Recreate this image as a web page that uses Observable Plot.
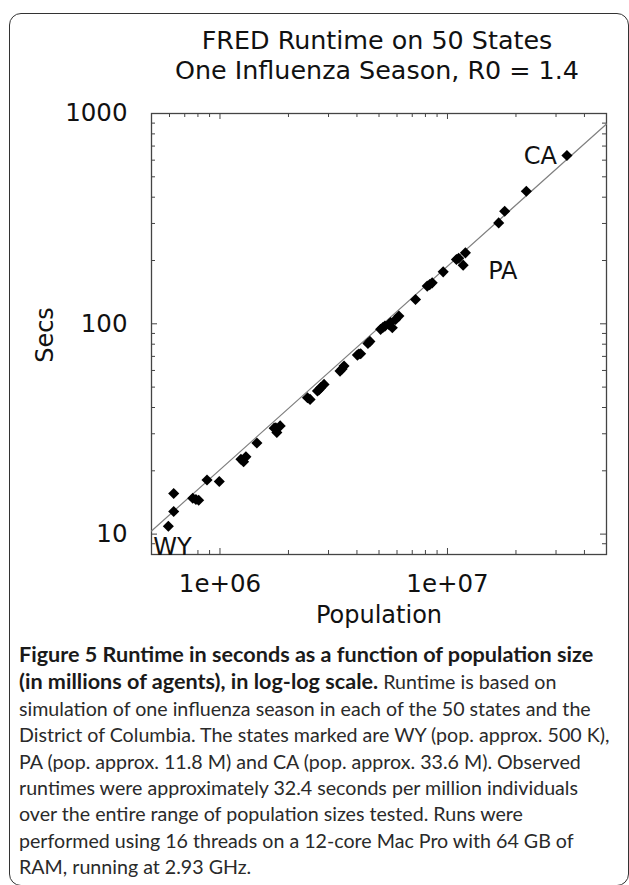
<!DOCTYPE html>
<html>
<head>
<meta charset="utf-8">
<script src="https://cdn.jsdelivr.net/npm/d3@7"></script>
<script src="https://cdn.jsdelivr.net/npm/@observablehq/plot@0.6"></script>
<style>
  html, body { margin: 0; padding: 0; background: #fff; }
  #page { position: relative; width: 629px; height: 885px; overflow: hidden; background: #fff; }
  #box { position: absolute; left: 9px; top: 13px; width: 620px; height: 873px; border: 1.5px solid #333; border-radius: 12px; box-sizing: border-box; }
  .title { position: absolute; left: 77px; width: 600px; text-align: center; font-family: "DejaVu Sans", Verdana, sans-serif; font-size: 25.4px; line-height: 30px; color: #111; white-space: nowrap; }
  #chart { position: absolute; left: 0; top: 100px; }
  #caption { position: absolute; left: 19px; top: 641px; font-family: Lato, "Open Sans", sans-serif; color: #2a2a2a; }
  #caption div { white-space: nowrap; line-height: 26.4px; }
  #caption b { font-weight: 700; color: #1a1a1a; }
</style>
</head>
<body>
<div id="page">
  <div id="box"></div>
  <div class="title" style="top:25px">FRED Runtime on 50 States</div>
  <div class="title" style="top:55px">One Influenza Season, R0 = 1.4</div>
  <div id="chart"></div>
  <div id="caption"></div>
</div>
<script>
// ---- data ----
const population = [
  593000, 626000, 626000, 759000, 806000, 877000, 993000, 1236000, 1270000, 1453000,
  1731000, 1778000, 1839000, 2425000, 2489000, 2682000, 2773000, 2867000, 3370000, 3510000,
  4018000, 4153000, 4470000, 5083000, 5309000, 5528000, 5721000, 5914000, 6114000, 7237000,
  8147000, 8567000, 9575000, 10950000, 11720000, 11990000, 16790000, 17840000, 22210000, 33500000,
  1300000, 1760000, 4080000, 5200000, 5620000, 2720000, 8350000, 11200000, 784000, 4560000, 3440000
];
const secs = [
  10.9, 12.8, 15.6, 14.8, 14.5, 18.1, 17.8, 22.7, 22.1, 27.1,
  31.9, 30.4, 32.7, 44.5, 43.7, 47.9, 49.7, 51.5, 59.6, 63.0,
  71.0, 72.0, 80.7, 94.1, 97.5, 99.3, 95.7, 104.9, 108.8, 130.6,
  151.1, 156.6, 176.6, 202.2, 190.1, 217.5, 301.9, 343.1, 427, 631,
  23.3, 32.0, 71.8, 96.0, 101.5, 48.5, 153.5, 205.0, 14.6, 82.5, 61.0
];
// marked states (index into the arrays above)
const markedStates = ["WY", "PA", "CA"];
const markedIndex = [0, 34, 39];

// fitted line (end points at the frame edges)
const fitPopulation = [500000, 50000000];
const fitSecs = [10.35, 891];

// axis ticks
const xMajorTicks = [1e6, 1e7];
const xMinorTicks = [6e5, 7e5, 8e5, 9e5, 2e6, 3e6, 4e6, 5e6, 6e6, 7e6, 8e6, 9e6, 2e7, 3e7, 4e7];
const yMajorTicks = [10, 100, 1000];
const yMinorTicks = [9, 20, 30, 40, 50, 60, 70, 80, 90, 200, 300, 400, 500, 600, 700, 800, 900];
const xLabel = "Population";
const yLabel = "Secs";

const captionLines = [
  ["Figure 5 Runtime in seconds as a function of population size", ""],
  ["(in millions of agents), in log-log scale.", " Runtime is based on"],
  ["", "simulation of one influenza season in each of the 50 states and the"],
  ["", "District of Columbia. The states marked are WY (pop. approx. 500 K),"],
  ["", "PA (pop. approx. 11.8 M) and CA (pop. approx. 33.6 M). Observed"],
  ["", "runtimes were approximately 32.4 seconds per million individuals"],
  ["", "over the entire range of population sizes tested. Runs were"],
  ["", "performed using 16 threads on a 12-core Mac Pro with 64 GB of"],
  ["", "RAM, running at 2.93 GHz."]
];

// ---- build tables ----
const points = population.map((p, i) => ({pop: p, secs: secs[i]}));
const labeled = markedIndex.map((k, i) => ({pop: population[k], secs: secs[k], name: markedStates[i]}));
const fit = fitPopulation.map((p, i) => ({pop: p, secs: fitSecs[i]}));
const fmtSci = d => "1e+" + String(Math.round(Math.log10(d))).padStart(2, "0");
const tickColor = "#444";

const W = 629, H = 540, mL = 151, mR = 23, mT = 13, mB = 86;
const frameW = W - mL - mR, frameH = H - mT - mB;
const minorLen = 4, majorLen = 6;

const chart = Plot.plot({
  width: W,
  height: H,
  marginLeft: mL,
  marginRight: mR,
  marginTop: mT,
  marginBottom: mB,
  x: {type: "log", domain: [5e5, 5e7]},
  y: {type: "log", domain: [8, 1000]},
  style: {fontFamily: "'DejaVu Sans', Verdana, sans-serif", color: "#111", background: "transparent", overflow: "visible"},
  marks: [
    // inward ticks on all four sides
    Plot.ruleX(xMinorTicks, {x: d => d, insetTop: frameH - minorLen, stroke: tickColor}),
    Plot.ruleX(xMinorTicks, {x: d => d, insetBottom: frameH - minorLen, stroke: tickColor}),
    Plot.ruleX(xMajorTicks, {x: d => d, insetTop: frameH - majorLen, stroke: tickColor}),
    Plot.ruleX(xMajorTicks, {x: d => d, insetBottom: frameH - majorLen, stroke: tickColor}),
    Plot.ruleY(yMinorTicks, {y: d => d, insetRight: frameW - minorLen, stroke: tickColor}),
    Plot.ruleY(yMinorTicks, {y: d => d, insetLeft: frameW - minorLen, stroke: tickColor}),
    Plot.ruleY(yMajorTicks, {y: d => d, insetRight: frameW - majorLen, stroke: tickColor}),
    Plot.ruleY(yMajorTicks, {y: d => d, insetLeft: frameW - majorLen, stroke: tickColor}),
    // tick labels
    Plot.axisX({anchor: "bottom", ticks: xMajorTicks, tickSize: 0, tickPadding: 20, tickFormat: fmtSci, label: null, fontSize: 24.5, fill: "#111"}),
    Plot.axisY({anchor: "left", ticks: yMajorTicks, tickSize: 0, tickPadding: 24, tickFormat: d => String(d), label: null, fontSize: 24.5, fill: "#111"}),
    // axis titles
    Plot.text([xLabel], {frameAnchor: "bottom", textAnchor: "middle", lineAnchor: "middle", dy: 61, fontSize: 24, fill: "#111"}),
    Plot.text([yLabel], {frameAnchor: "left", textAnchor: "middle", lineAnchor: "middle", dx: -106, dy: 1, rotate: -90, fontSize: 24, fill: "#111"}),
    // frame
    Plot.frame({stroke: "#444", strokeWidth: 1.3}),
    // fitted line
    Plot.line(fit, {x: "pop", y: "secs", stroke: "#808080", strokeWidth: 1.2}),
    // data points
    Plot.dot(points, {x: "pop", y: "secs", symbol: "diamond2", r: 5, fill: "#000", stroke: null}),
    // state labels
    Plot.text(labeled.filter(d => d.name === "WY"), {x: "pop", y: "secs", text: "name", textAnchor: "start", dx: -15, dy: 21, fontSize: 24, fill: "#111"}),
    Plot.text(labeled.filter(d => d.name === "PA"), {x: "pop", y: "secs", text: "name", textAnchor: "start", dx: 25, dy: 6, fontSize: 24, fill: "#111"}),
    Plot.text(labeled.filter(d => d.name === "CA"), {x: "pop", y: "secs", text: "name", textAnchor: "end", dx: -10, dy: 1, fontSize: 24, fill: "#111"})
  ]
});
document.getElementById("chart").appendChild(chart);

// ---- caption ----
const cap = document.getElementById("caption");
const rows = captionLines.map(([b, n]) => {
  const div = document.createElement("div");
  if (b) { const el = document.createElement("b"); el.textContent = b; div.appendChild(el); }
  if (n) div.appendChild(document.createTextNode(n));
  div.style.display = "inline-block";
  cap.appendChild(div);
  cap.appendChild(document.createElement("br"));
  return div;
});
cap.style.fontSize = "20px";
const w = rows[2].getBoundingClientRect().width;
const fs = 20 * 572 / w;           // third line spans ~572 px in the reference
cap.style.fontSize = fs.toFixed(2) + "px";
const bw = rows[0].getBoundingClientRect().width;
const bfs = fs * 574 / bw;         // bold first line spans ~574 px
cap.querySelectorAll("b").forEach(b => { b.style.fontSize = bfs.toFixed(2) + "px"; });
</script>
</body>
</html>
